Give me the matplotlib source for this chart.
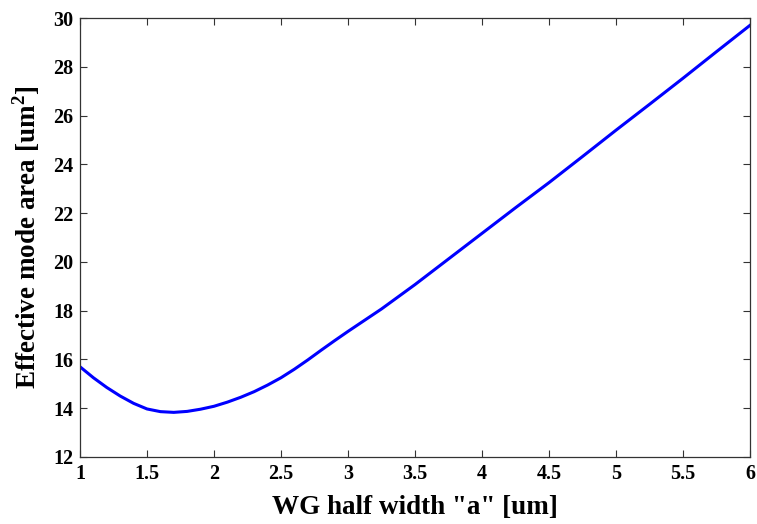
import numpy as np
import matplotlib
matplotlib.use("Agg")
import matplotlib.pyplot as plt

# values
half_width = [1.0, 1.1, 1.2, 1.3, 1.4, 1.5, 1.6, 1.7, 1.8, 1.9, 2.0,
              2.1, 2.2, 2.3, 2.4, 2.5, 2.6, 2.7, 2.8, 2.9, 3.0, 3.25, 3.5,
              3.75, 4.0, 4.25, 4.5, 4.75, 5.0, 5.25, 5.5, 5.75, 6.0]
mode_area = [15.7, 15.25, 14.85, 14.5, 14.2, 13.97, 13.86, 13.83, 13.87, 13.96, 14.08,
             14.25, 14.45, 14.68, 14.95, 15.25, 15.6, 15.98, 16.38, 16.77, 17.15, 18.07, 19.07,
             20.12, 21.17, 22.22, 23.25, 24.32, 25.4, 26.46, 27.53, 28.62, 29.7]

xticks = [1, 1.5, 2, 2.5, 3, 3.5, 4, 4.5, 5, 5.5, 6]
xticklabels = ["1", "1.5", "2", "2.5", "3", "3.5", "4", "4.5", "5", "5.5", "6"]
yticks = [12, 14, 16, 18, 20, 22, 24, 26, 28, 30]

plt.rcParams['font.family'] = ['Liberation Serif', 'DejaVu Serif']
plt.rcParams['font.weight'] = 'bold'
plt.rcParams['mathtext.fontset'] = 'custom'
plt.rcParams['mathtext.rm'] = 'Liberation Serif:bold'

fig = plt.figure(figsize=(7.57, 5.24), dpi=100)
ax = fig.add_axes([80 / 757, 1 - 457 / 524, 670 / 757, 439 / 524])

ax.plot(half_width, mode_area, color='#0000ff', linewidth=2.2)

ax.set_xlim(1, 6)
ax.set_ylim(12, 30)
ax.set_xticks(xticks)
ax.set_xticklabels(xticklabels)
ax.set_yticks(yticks)

ax.tick_params(direction='in', length=5, width=0.8, color='#333333',
               top=True, right=True, labelsize=14.5, pad=5)
for lbl in ax.get_xticklabels() + ax.get_yticklabels():
    lbl.set_fontweight('bold')
for s in ax.spines.values():
    s.set_linewidth(0.9)
    s.set_color('#333333')

ax.set_xlabel('WG half width "a" [um]', fontsize=19.5, fontweight='bold', labelpad=8)
ax.set_ylabel('Effective mode area [um$^\\mathregular{2}$]', fontsize=19.5,
              fontweight='bold', labelpad=8)

fig.savefig('out.png', dpi=100)
